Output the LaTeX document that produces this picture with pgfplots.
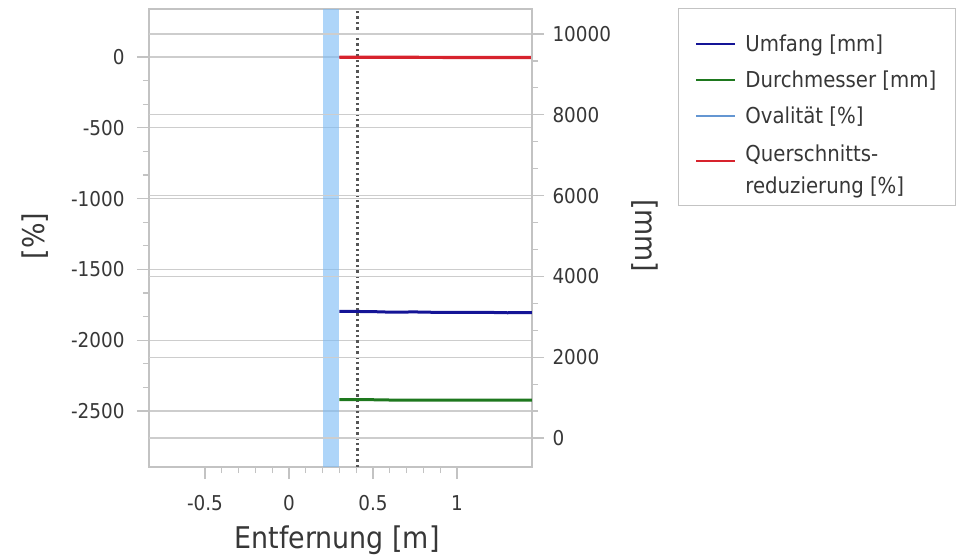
\documentclass[border=0pt]{standalone}
\usepackage{fontspec}
\setmainfont{DejaVu Sans Condensed}
\usepackage{pgfplots}
\pgfplotsset{compat=1.18}
\definecolor{gridc}{RGB}{205,205,205}
\definecolor{axc}{RGB}{195,195,195}
\definecolor{txt}{RGB}{55,55,55}
\definecolor{cred}{RGB}{215,35,45}
\definecolor{cblue}{RGB}{20,20,150}
\definecolor{cgreen}{RGB}{30,120,30}
\definecolor{coval}{RGB}{100,150,210}
\definecolor{cband}{RGB}{120,185,245}
\definecolor{cdot}{RGB}{85,85,85}
\newcommand\qentry{{\fontsize{22}{27}\selectfont\begin{tabular}{@{}l@{}}Querschnitts-\\[5bp]reduzierung [\%]\end{tabular}}}

\begin{document}
\begin{tikzpicture}
\useasboundingbox (0bp,0bp) rectangle (961bp,557bp);
\pgfplotsset{
  common/.style={
    scale only axis, width=383bp, height=458bp,
    at={(149bp,90bp)}, anchor=south west,
    xmin=-0.8333, xmax=1.4464,
    scaled ticks=false,
    /pgf/number format/assume math mode=true,
    /pgf/number format/1000 sep={},
    ticklabel style={font=\fontsize{20.5}{24}\selectfont, text=txt},
    label style={font=\fontsize{30}{34}\selectfont, text=txt},
    grid style={gridc, line width=1.3bp},
    axis line style={axc, line width=1.4bp},
    tick align=outside,
    major tick length=12bp, minor tick length=6bp,
    tick style={axc, line width=1.2bp},
  }
}
\begin{axis}[common,
  ymin=-2895, ymax=339,
  xtick={-0.5,0,0.5,1}, minor x tick num=4,
  ytick={-2500,-2000,...,0}, minor y tick num=2,
  xtick pos=bottom, ytick pos=left,
  ymajorgrids,
  xlabel={Entfernung [m]}, ylabel={[\%]},
  xlabel style={at={(axis description cs:0.491,-0.159)}, anchor=center},
  ylabel style={at={(axis description cs:-0.298,0.504)}, anchor=center},
  yticklabel style={xshift=-9bp},
  xticklabel style={yshift=-13bp},
]
\addplot[fill=cband, fill opacity=0.6, draw=none] coordinates {(0.2,-2895) (0.2,339) (0.3,339) (0.3,-2895)} -- cycle;
\addplot[cdot, line width=3bp, dash pattern=on 2.4bp off 3bp] coordinates {(0.41,-2895) (0.41,339)};
\addplot[coval, line width=2bp] coordinates {(0.30,0) (1.446,0)};
\addplot[cred, line width=3.2bp] coordinates {(0.30,-2) (0.60,-2) (1.00,-3) (1.446,-3)};
\end{axis}
\begin{axis}[common,
  ymin=-718, ymax=10619,
  hide x axis, axis y line*=right,
  ytick={0,2000,...,10000}, minor y tick num=2,
  ymajorgrids,
  ylabel={[mm]},
  ylabel style={rotate=180, at={(axis description cs:1.295,0.505)}, anchor=center},
  yticklabel style={xshift=5bp},
  legend style={at={(axis description cs:1.381,1.002)}, anchor=north west,
    draw=axc, line width=1.2bp, fill=white,
    font=\fontsize{22}{31}\selectfont, text=txt,
    cells={anchor=west},
    inner xsep=17bp, inner ysep=24bp, row sep=14bp},
  legend image code/.code={\draw[#1, line width=1.6bp] (0bp,0bp) -- (39bp,0bp); \path[draw=none, fill=none] (47bp,0bp) circle (0.1bp);},
]
\addplot[cblue, line width=3bp] coordinates {(0.30,3135) (0.40,3132) (0.50,3128) (0.60,3115) (0.75,3120) (0.85,3112) (1.00,3110) (1.20,3108) (1.30,3100) (1.446,3104)};
\addlegendentry{Umfang [mm]}
\addplot[cgreen, line width=3bp] coordinates {(0.30,948) (0.50,947) (0.60,940) (1.00,938) (1.446,938)};
\addlegendentry{Durchmesser [mm]}
\addlegendimage{draw=coval}
\addlegendentry{Ovalität [\%]}
\addlegendimage{draw=cred}
\addlegendentry{\qentry}
\end{axis}
\end{tikzpicture}
\end{document}
